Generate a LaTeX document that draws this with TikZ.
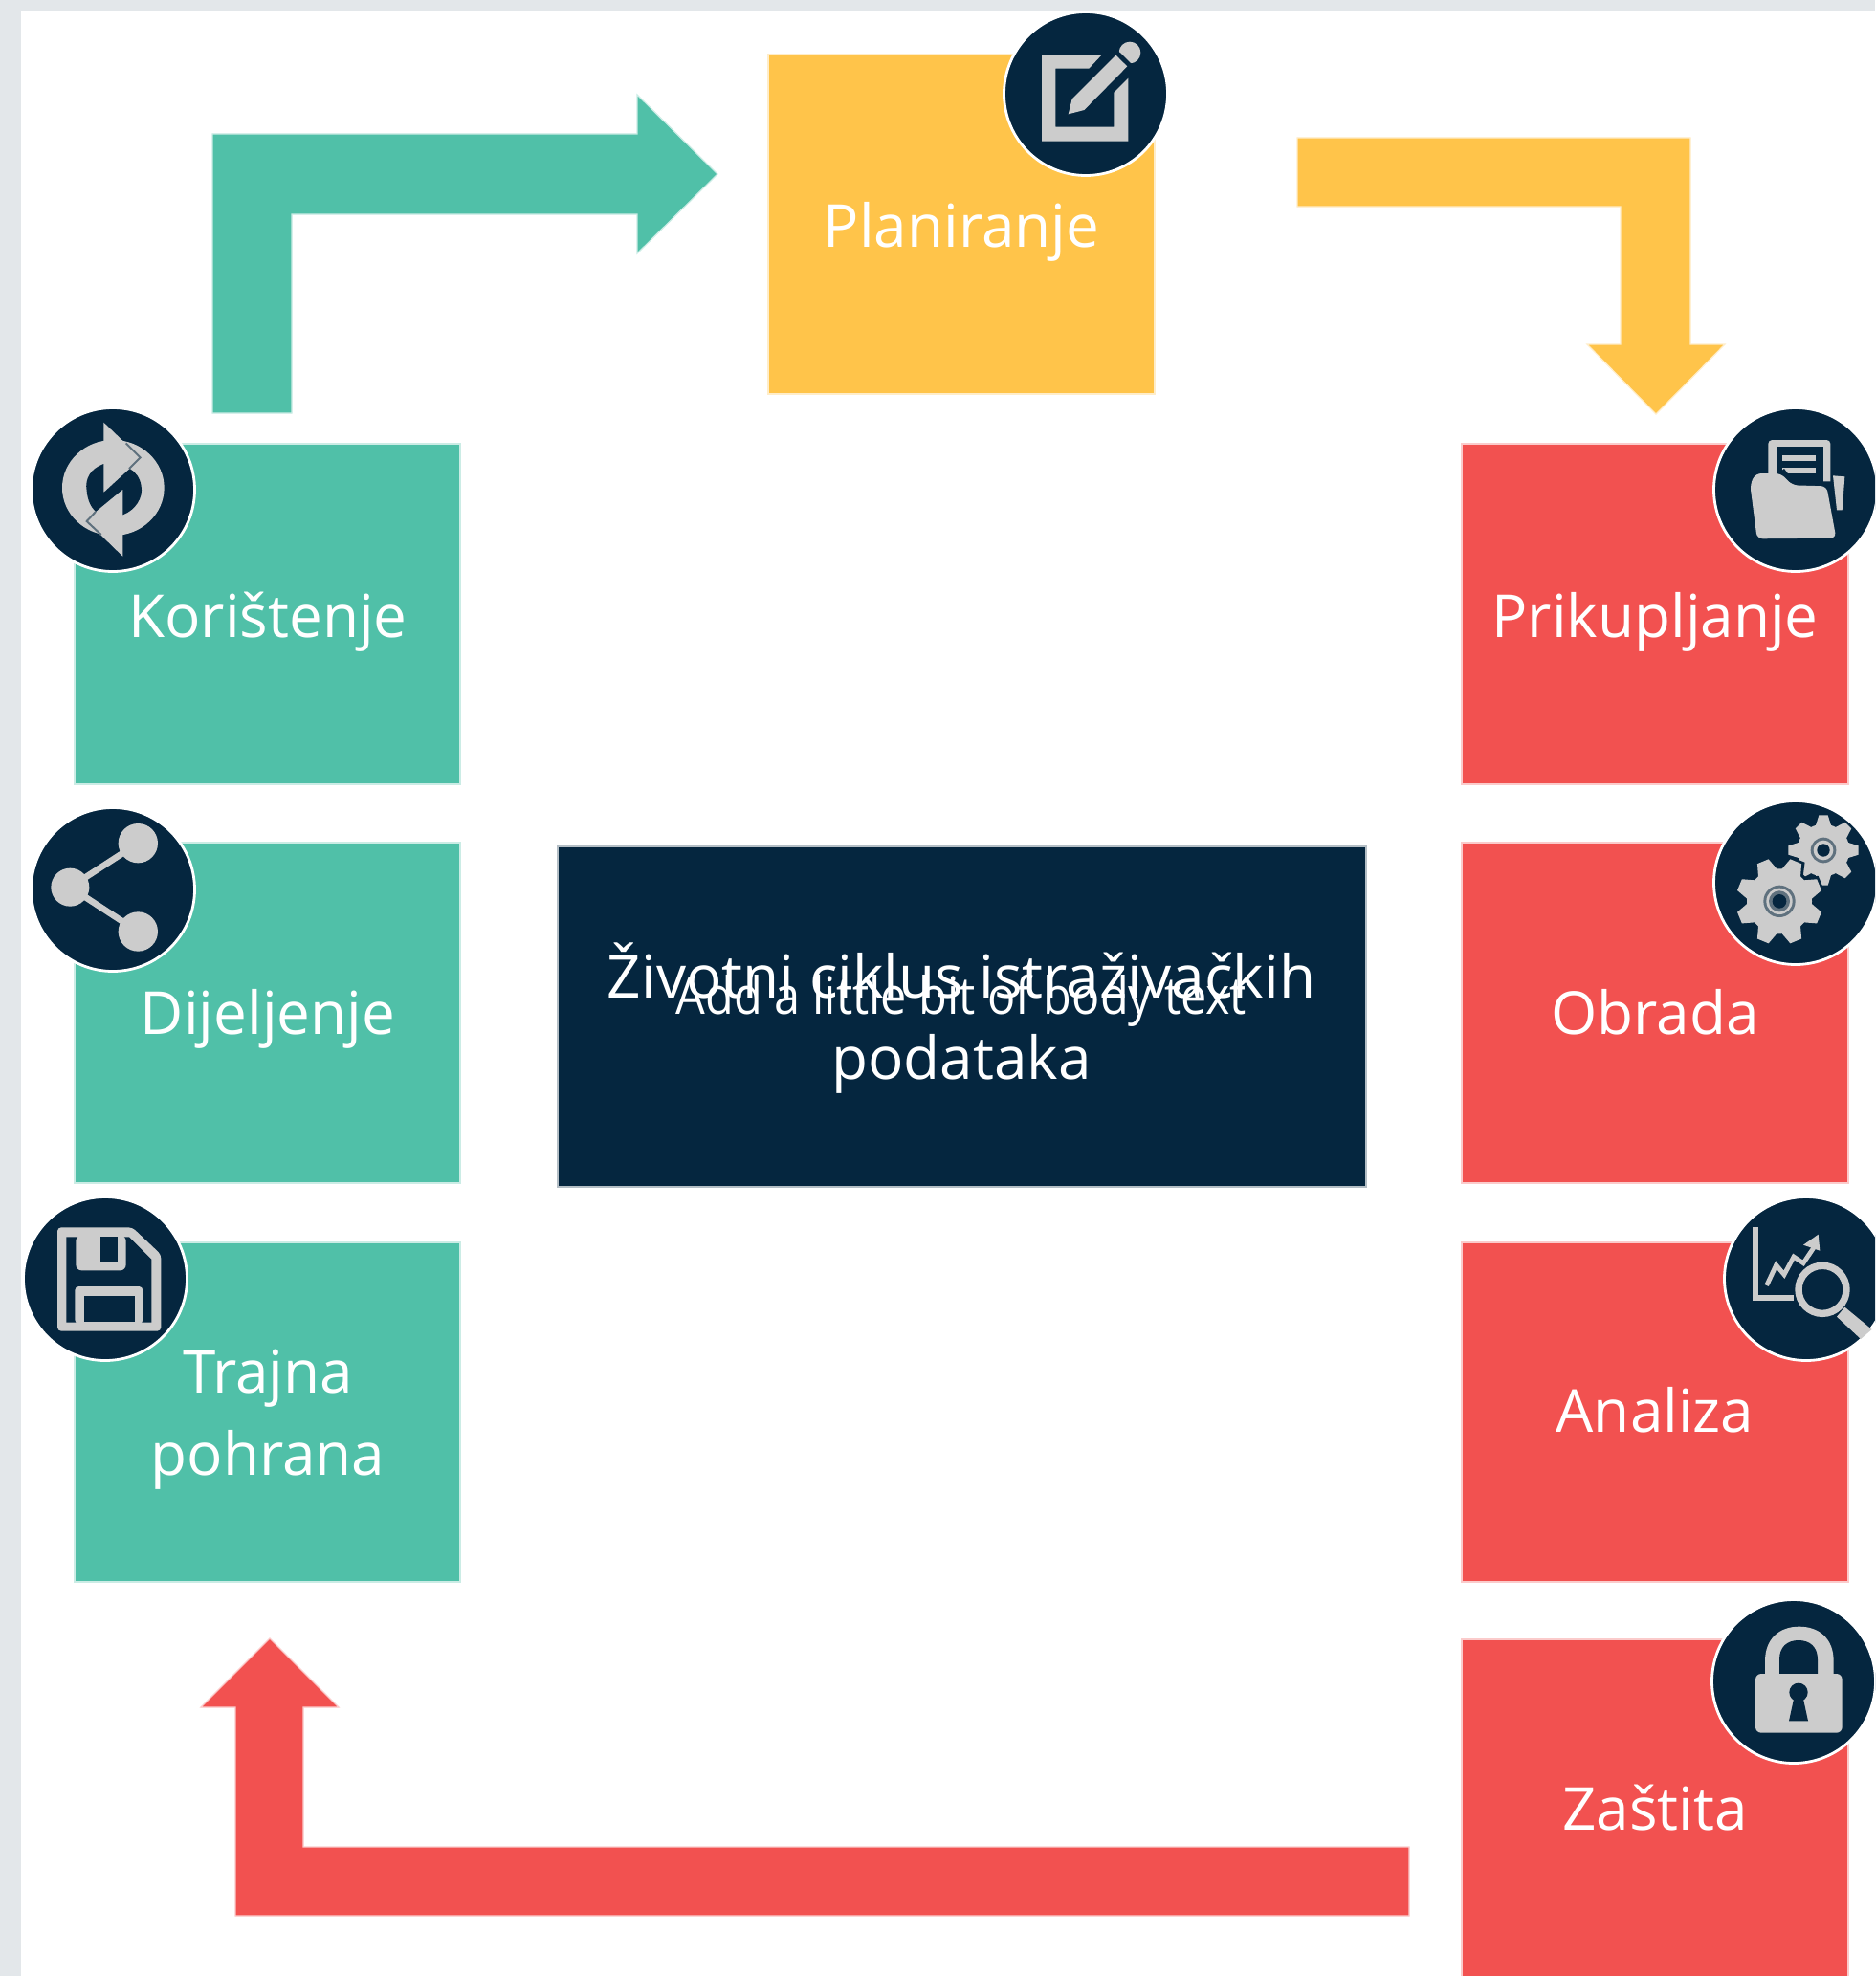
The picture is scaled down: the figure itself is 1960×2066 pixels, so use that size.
\documentclass[tikz,border=0pt]{standalone}
\usepackage{fontspec}
\setmainfont{Open Sans}
\newfontfamily\bodyfont[FakeStretch=0.9]{Open Sans}
\definecolor{teal1}{HTML}{50C0A8}
\definecolor{yell1}{HTML}{FFC44A}
\definecolor{red1}{HTML}{F25150}
\definecolor{navy1}{HTML}{05263F}
\definecolor{icon1}{HTML}{CCCCCC}
\definecolor{page1}{HTML}{E3E7EA}
\tikzset{
  card/.style={draw=white!70!#1,line width=0.8pt,fill=#1},
  blockarrow/.style={draw=white!70!#1,line width=0.6pt,fill=#1},
  lab/.style={text=white,font=\fontsize{31}{40}\selectfont,anchor=base,inner sep=0pt,align=center},
  badge/.style={circle,draw=white,line width=1.4pt,fill=navy1,minimum size=85.5pt,inner sep=0pt},
  glyph/.style={fill=icon1,draw=none},
  hole/.style={fill=navy1,draw=none},
}
\begin{document}
\begin{tikzpicture}[x=0.5pt,y=-0.5pt]
\useasboundingbox (0,0) rectangle (1960,2066);
\clip (0,0) rectangle (1960,2066);
\fill[page1] (0,0) rectangle (1960,2066);
\fill[white] (22,11) rectangle (1960,2066);

% block arrows
\path[blockarrow=teal1] (222,432) -- (222,140) -- (666,140) -- (666,99) -- (750,182) -- (666,265) -- (666,224) -- (305,224) -- (305,432) -- cycle;
\path[blockarrow=yell1] (1356,144) -- (1767,144) -- (1767,360) -- (1803,360) -- (1731,433) -- (1659,360) -- (1694,360) -- (1694,216) -- (1356,216) -- cycle;
\path[blockarrow=red1] (1473,1931) -- (317,1931) -- (317,1785) -- (354,1785) -- (282,1713) -- (210,1785) -- (246,1785) -- (246,2003) -- (1473,2003) -- cycle;

% cards
\path[card=yell1] (803,57) rectangle (1207,412);
\path[card=teal1] (78,464) rectangle (481,820);
\path[card=teal1] (78,881) rectangle (481,1237);
\path[card=teal1] (78,1299) rectangle (481,1654);
\path[card=red1] (1528,464) rectangle (1932,820);
\path[card=red1] (1528,881) rectangle (1932,1237);
\path[card=red1] (1528,1299) rectangle (1932,1654);
\path[card=red1] (1528,1714) rectangle (1932,2080);
\path[draw=white!70!navy1,line width=0.8pt,fill=navy1] (583,885) rectangle (1428,1241);

% labels
\node[lab] (planiranje) at (1005,258) {Planiranje};
\node[lab] (koristenje) at (280,666) {Korištenje};
\node[lab] (dijeljenje) at (280,1081) {Dijeljenje};
\node[lab] (trajna) at (280,1456) {Trajna};
\node[lab] (pohrana) at (280,1542) {pohrana};
\node[lab] (prikupljanje) at (1730,666) {Prikupljanje};
\node[lab] (obrada) at (1730,1081) {Obrada};
\node[lab] (analiza) at (1730,1497) {Analiza};
\node[lab] (zastita) at (1730,1913) {Zaštita};
\node[lab] (naslov1) at (1005,1043) {Životni ciklus istraživačkih};
\node[lab] (naslov2) at (1005,1128) {podataka};
\node[lab,font=\bodyfont\fontsize{27}{32}\selectfont] (tijelo) at (1005,1060) {Add a little bit of body text};

% badges
\node[badge] (b1) at (1135,98) {};
\node[badge] (b2) at (118,512) {};
\node[badge] (b3) at (118,930) {};
\node[badge] (b4) at (110,1337) {};
\node[badge] (b5) at (1877,512) {};
\node[badge] (b6) at (1877,923) {};
\node[badge] (b7) at (1888,1337) {};
\node[badge] (b8) at (1875,1758) {};

% pencil icon
\begin{scope}[shift={(1020,0)},scale=1/3]
\fill[glyph] (395,172) -- (207,172) -- (207,443) -- (478,443) -- (478,245) -- (433,290) -- (433,398) -- (250,398) -- (250,215) -- (355,215) -- cycle;
\fill[glyph] (290,358) -- (302,310) -- (440,172) -- (475,208) -- (340,345) -- cycle;
\fill[glyph] (483,165) circle (34);
\fill[hole] (434,167) -- (444,157) -- (488,200) -- (478,210) -- cycle;
\end{scope}

% refresh icon
\begin{scope}[shift={(20,410)},scale=1/3]
\fill[glyph] (295,300) ellipse (160 and 150);
\fill[glyph] (265,95) -- (380,205) -- (265,315) -- cycle;
\fill[glyph] (325,515) -- (212,405) -- (325,295) -- cycle;
\fill[hole] (265,225) .. controls (225,240) and (205,270) .. (212,310) .. controls (215,340) and (225,360) .. (240,375) -- (325,305) -- (325,385) .. controls (365,370) and (390,330) .. (383,295) .. controls (380,270) and (365,250) .. (347,240) -- (265,315) -- cycle;
\draw[navy1!55!icon1,line width=1pt] (335,160) -- (380,205) -- (345,240);
\draw[navy1!55!icon1,line width=1pt] (257,447) -- (212,405) -- (240,375);
\end{scope}

% folder icon
\begin{scope}[shift={(1780,410)},scale=1/3]
\fill[glyph,rounded corners=2pt] (205,290) -- (205,150) -- (400,150) -- (400,300) -- cycle;
\fill[hole] (235,172) rectangle (378,300);
\fill[glyph] (250,197) rectangle (355,215);
\fill[glyph] (250,237) rectangle (355,255);
\fill[hole] (235,255) -- (255,240) -- (285,280) -- (405,280) -- (425,470) -- (150,470) -- (140,260) -- cycle;
\fill[glyph] (408,262) -- (445,265) -- (437,370) -- (420,370) -- cycle;
\fill[glyph,rounded corners=3pt] (148,290) -- (165,255) -- (245,255) -- (280,292) -- (388,295) -- (418,458) -- (170,460) -- cycle;
\end{scope}

% share icon
\begin{scope}[shift={(20,830)},scale=1/3]
\draw[icon1,line width=3.3pt] (373,155) -- (160,293) -- (373,432);
\fill[glyph] (373,155) circle (62);
\fill[glyph] (160,293) circle (60);
\fill[glyph] (373,432) circle (62);
\end{scope}

% gears icon
\begin{scope}[shift={(1780,830)},scale=1/3]
\begin{scope}[shift={(378,177)}]
\fill[glyph] (0,0) circle (82);
\foreach \a in {0,45,...,315}
  \fill[glyph,rotate=\a] (-25,-75) -- (-14,-110) -- (14,-110) -- (25,-75) -- cycle;
\fill[navy1!55!icon1] (0,0) circle (40);
\fill[glyph] (0,0) circle (31);
\fill[hole] (0,0) circle (20);
\end{scope}
\begin{scope}[shift={(240,337)}]
\fill[hole] (0,0) circle (112);
\foreach \a in {22.5,67.5,...,337.5}
  \fill[hole,rotate=\a] (-40,-95) -- (-27,-143) -- (27,-143) -- (40,-95) -- cycle;
\fill[glyph] (0,0) circle (102);
\foreach \a in {22.5,67.5,...,337.5}
  \fill[glyph,rotate=\a] (-32,-95) -- (-19,-135) -- (19,-135) -- (32,-95) -- cycle;
\fill[navy1!55!icon1] (0,0) circle (50);
\fill[glyph] (0,0) circle (41);
\fill[navy1!55!icon1] (0,0) circle (33);
\fill[hole] (0,0) circle (22);
\end{scope}
\end{scope}

% chart and lens icon
\begin{scope}[shift={(1780,1240)},scale=1/3]
\draw[icon1,line width=3pt] (165,130) -- (165,350) -- (285,350);
\draw[icon1,line width=2.4pt] (200,312) -- (230,248) -- (255,278) -- (285,222) -- (315,242) -- (350,190);
\fill[glyph] (362,152) -- (315,185) -- (367,203) -- cycle;
\draw[icon1,line width=3.7pt] (375,325) circle (75);
\fill[glyph] (445,380) -- (530,450) -- (495,480) -- (420,410) -- cycle;
\end{scope}

% lock icon
\begin{scope}[shift={(1780,1670)},scale=1/3]
\fill[glyph] (195,250) -- (195,200) .. controls (195,130) and (240,92) .. (302,92) .. controls (365,92) and (410,130) .. (410,200) -- (410,250) -- cycle;
\fill[hole] (240,245) -- (240,195) .. controls (240,155) and (265,135) .. (300,135) .. controls (335,135) and (360,155) .. (360,195) -- (360,245) -- cycle;
\fill[glyph,rounded corners=3pt] (165,240) rectangle (437,425);
\fill[hole] (300,298) circle (29);
\fill[hole] (287,310) -- (313,310) -- (330,388) -- (270,388) -- cycle;
\end{scope}

% floppy icon
\begin{scope}[shift={(20,1240)},scale=1/3]
\fill[glyph,rounded corners=2pt] (120,130) -- (355,130) -- (445,215) -- (445,455) -- (120,455) -- cycle;
\fill[hole] (148,160) -- (345,160) -- (415,230) -- (415,428) -- (148,428) -- cycle;
\fill[glyph,rounded corners=3pt] (178,155) -- (335,155) -- (335,265) -- (178,265) -- cycle;
\fill[hole] (255,160) rectangle (310,238);
\fill[glyph,rounded corners=2pt] (175,432) -- (175,315) -- (388,315) -- (388,432) -- cycle;
\fill[hole] (205,345) rectangle (362,425);
\end{scope}
\end{tikzpicture}
\end{document}
